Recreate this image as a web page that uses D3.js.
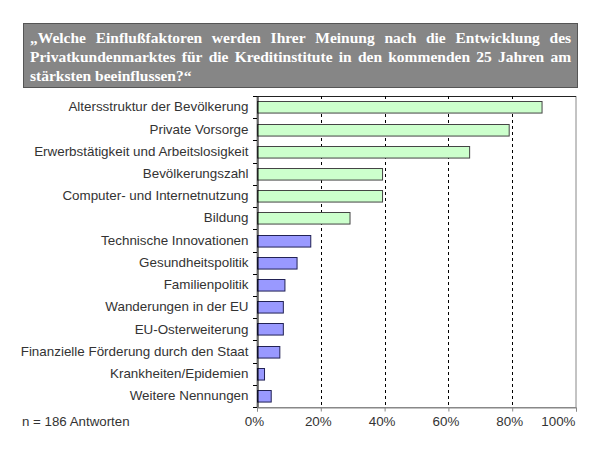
<!DOCTYPE html>
<html><head><meta charset="utf-8">
<script src="https://cdn.jsdelivr.net/npm/d3@7"></script>
<style>body{margin:0;background:#fff}svg{display:block}</style>
</head><body>
<svg id="chart" width="600" height="450"></svg>
<script>
const categories = ["Altersstruktur der Bevölkerung","Private Vorsorge","Erwerbstätigkeit und Arbeitslosigkeit","Bevölkerungszahl","Computer- und Internetnutzung","Bildung","Technische Innovationen","Gesundheitspolitik","Familienpolitik","Wanderungen in der EU","EU-Osterweiterung","Finanzielle Förderung durch den Staat","Krankheiten/Epidemien","Weitere Nennungen"];
const values = [89.2, 78.9, 66.5, 39.2, 39.2, 29.0, 16.7, 12.4, 8.6, 8.1, 8.1, 7.0, 2.2, 4.3];
const groups = ["top","top","top","top","top","top","rest","rest","rest","rest","rest","rest","rest","rest"];
const xTicks = [0, 20, 40, 60, 80, 100];
const titleLines = ["„Welche Einflußfaktoren werden Ihrer Meinung nach die Entwicklung des","Privatkundenmarktes für die Kreditinstitute in den kommenden 25 Jahren am","stärksten beeinflussen?“"];
const note = "n = 186 Antworten";

const FONT = "'Liberation Sans',Arial,sans-serif";
const svg = d3.select("#chart");
// title box
svg.append("rect").attr("x",23.5).attr("y",23.5).attr("width",554).attr("height",64)
  .attr("fill","#868686").attr("stroke","#555").attr("stroke-width",1);
const tlX0 = 30, tlX1 = 571, TFS = 15.5;
titleLines.forEach((line,i)=>{
  const t = svg.append("text").attr("x",tlX0).attr("y",42.5+i*19)
    .attr("font-family","'Liberation Serif','Times New Roman',serif")
    .attr("font-weight","bold").attr("font-size",TFS).attr("fill","#fff").text(line);
  if(i < titleLines.length-1){
    const words = line.split(" ");
    t.text(null);
    const tmp = svg.append("text").attr("font-family","'Liberation Serif',serif").attr("font-weight","bold").attr("font-size",TFS).text(line.replace(/ /g,""));
    const w = tmp.node().getComputedTextLength(); tmp.remove();
    const gap = (tlX1-tlX0-w)/(words.length-1);
    let cx = tlX0;
    words.forEach(wd=>{
      const s = t.append("tspan").attr("x",cx).text(wd);
      cx += s.node().getComputedTextLength()+gap;
    });
  }
});

const L = 257, R = 576, T = 96, B = 407;
const x = d3.scaleLinear().domain([0,100]).range([L,R]);
const y = d3.scaleBand().domain(categories).range([T,B]).paddingInner(0.48).paddingOuter(0.24);
const color = d3.scaleOrdinal().domain(["top","rest"]).range(["#ccffcc","#9999ff"]);
const stroke = d3.scaleOrdinal().domain(["top","rest"]).range(["#444","#222255"]);

// plot border
svg.append("rect").attr("x",L).attr("y",T+0.5).attr("width",R-L).attr("height",B-T)
  .attr("fill","none").attr("stroke","#888");
svg.append("line").attr("x1",L).attr("x2",R).attr("y1",T+0.5).attr("y2",T+0.5).attr("stroke","#222");
// gridlines
svg.append("g").selectAll("line").data(xTicks.slice(1,-1)).join("line")
  .attr("x1",d=>Math.round(x(d))+0.5).attr("x2",d=>Math.round(x(d))+0.5)
  .attr("y1",T).attr("y2",B).attr("stroke","#000").attr("stroke-dasharray","3,3");

// bars
svg.append("g").selectAll("rect").data(categories).join("rect")
  .attr("x",L+0.5).attr("y",d=>Math.round(y(d))+0.5)
  .attr("width",(d,i)=>x(values[i])-L).attr("height",y.bandwidth())
  .attr("fill",(d,i)=>color(groups[i])).attr("stroke",(d,i)=>stroke(groups[i])).attr("stroke-width",1);

// y axis
const yAxisG = svg.append("g").attr("transform",`translate(${L+0.5},0)`)
  .call(d3.axisLeft(y).tickSize(0).tickPadding(9));
yAxisG.select(".domain").attr("stroke","#000");
yAxisG.selectAll("text").attr("font-family",FONT).attr("font-size",13.4).attr("fill","#333");
// category boundary ticks
const bounds = d3.range(categories.length+1).map(i=>T + i*y.step());
svg.append("g").selectAll("line").data(bounds).join("line")
  .attr("x1",L-4).attr("x2",L).attr("y1",d=>Math.round(d)+0.5).attr("y2",d=>Math.round(d)+0.5).attr("stroke","#000");

// x axis
const xAxisG = svg.append("g").attr("transform",`translate(0,${B+0.5})`)
  .call(d3.axisBottom(x).tickValues(xTicks).tickFormat(d=>d+"%").tickSize(4).tickPadding(5));
xAxisG.select(".domain").attr("stroke","#888");
xAxisG.selectAll("line").attr("stroke","#888");
xAxisG.selectAll("text").attr("font-family",FONT).attr("font-size",13.4).attr("fill","#333")
  .attr("dx",-3)
  .filter(d=>d===100).attr("text-anchor","end").attr("dx",0).attr("x",-1);

svg.append("text").attr("x",22).attr("y",426).attr("font-family",FONT)
  .attr("font-size",13.3).attr("fill","#333").text(note);
</script>
</body></html>
